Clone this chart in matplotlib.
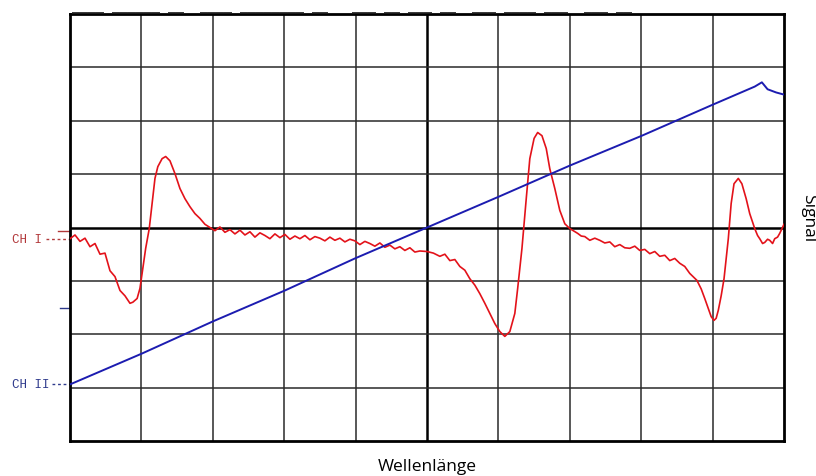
import matplotlib.pyplot as plt
import matplotlib.transforms as mtransforms

# CH I trace (red), x and y in grid divisions (10 x 8 screen, centre = 0)
ch1_x = [0.00, 0.07, 0.14, 0.21, 0.28, 0.35, 0.42, 0.49, 0.56, 0.63, 0.70, 0.77, 0.84, 0.88,
         0.94, 0.98, 1.02, 1.06, 1.11, 1.15, 1.19, 1.23, 1.29, 1.34, 1.40, 1.47, 1.54, 1.61,
         1.68, 1.75, 1.82, 1.89, 1.96, 2.03, 2.10, 2.17, 2.24, 2.31, 2.38, 2.45, 2.52, 2.59,
         2.66, 2.73, 2.80, 2.87, 2.94, 3.01, 3.08, 3.15, 3.22, 3.29, 3.36, 3.43, 3.50, 3.57,
         3.64, 3.71, 3.78, 3.85, 3.92, 3.99, 4.06, 4.13, 4.20, 4.27, 4.34, 4.41, 4.48, 4.55,
         4.62, 4.69, 4.76, 4.83, 4.90, 5.00, 5.09, 5.18, 5.25, 5.32, 5.39, 5.46, 5.53, 5.60,
         5.67, 5.74, 5.81, 5.88, 5.95, 6.02, 6.09, 6.16, 6.23, 6.27, 6.33, 6.39, 6.44, 6.50,
         6.55, 6.61, 6.67, 6.72, 6.79, 6.86, 6.93, 7.00, 7.05, 7.11, 7.16, 7.21, 7.28, 7.35,
         7.42, 7.49, 7.56, 7.63, 7.70, 7.77, 7.84, 7.91, 7.98, 8.05, 8.12, 8.19, 8.26, 8.33,
         8.40, 8.47, 8.54, 8.61, 8.68, 8.78, 8.84, 8.89, 8.94, 8.98, 9.02, 9.05, 9.08, 9.12,
         9.16, 9.22, 9.26, 9.30, 9.36, 9.41, 9.47, 9.52, 9.59, 9.63, 9.66, 9.70, 9.73, 9.77,
         9.80, 9.84, 9.87, 9.91, 9.94, 10.00]
ch1_y = [-0.21, -0.14, -0.26, -0.20, -0.36, -0.30, -0.50, -0.48, -0.81, -0.92, -1.18, -1.28,
         -1.42, -1.40, -1.33, -1.14, -0.77, -0.39, -0.02, 0.45, 0.92, 1.14, 1.29, 1.33, 1.25,
         1.01, 0.73, 0.54, 0.39, 0.26, 0.17, 0.06, 0.00, -0.06, 0.01, -0.09, -0.04, -0.12,
         -0.05, -0.14, -0.08, -0.18, -0.10, -0.15, -0.21, -0.12, -0.19, -0.13, -0.22, -0.16,
         -0.21, -0.15, -0.23, -0.17, -0.20, -0.25, -0.18, -0.24, -0.20, -0.27, -0.22, -0.25,
         -0.32, -0.26, -0.30, -0.35, -0.29, -0.37, -0.33, -0.40, -0.36, -0.43, -0.38, -0.46,
         -0.44, -0.45, -0.48, -0.54, -0.50, -0.62, -0.60, -0.73, -0.80, -0.96, -1.08, -1.24,
         -1.42, -1.61, -1.80, -1.95, -2.04, -1.95, -1.61, -1.14, -0.39, 0.54, 1.29, 1.67, 1.78,
         1.72, 1.48, 1.10, 0.73, 0.32, 0.07, -0.02, -0.06, -0.11, -0.16, -0.17, -0.24, -0.20,
         -0.24, -0.29, -0.27, -0.36, -0.32, -0.38, -0.39, -0.35, -0.43, -0.41, -0.49, -0.45,
         -0.54, -0.52, -0.62, -0.58, -0.67, -0.73, -0.86, -0.99, -1.15, -1.33, -1.52, -1.67,
         -1.74, -1.70, -1.55, -1.28, -0.96, -0.21, 0.45, 0.82, 0.92, 0.82, 0.54, 0.26, -0.02,
         -0.15, -0.21, -0.30, -0.28, -0.22, -0.24, -0.30, -0.21, -0.18, -0.11, 0.06]

# CH II trace (blue)
ch2_x = [0.00, 1.01, 2.00, 3.01, 3.99, 5.00, 6.01, 7.00, 8.01, 9.00, 9.59, 9.69, 9.77, 9.89, 10.00]
ch2_y = [-2.94, -2.36, -1.76, -1.18, -0.58, 0.00, 0.58, 1.16, 1.72, 2.30, 2.64, 2.72, 2.59, 2.53, 2.49]

# channel labels and offset markers
ch1_label, ch1_level, ch1_marker = 'CH I', -0.21, -0.06
ch2_label, ch2_level, ch2_marker = 'CH II', -2.94, -1.50

red = '#e3121a'
blue = '#1c1cb0'
label_red = '#b2383a'
label_blue = '#2e3a8c'

fig = plt.figure(figsize=(8.16, 4.77), dpi=100)
ax = fig.add_axes([70 / 816, 1 - 442 / 477, 714 / 816, 427 / 477])
ax.set_xlim(0, 10)
ax.set_ylim(-4, 4)

# Raster
for gx in range(1, 10):
    ax.axvline(gx, color='#2a2a2a' if gx != 5 else 'black', lw=1.1 if gx != 5 else 1.8, zorder=1)
for gy in range(-3, 4):
    ax.axhline(gy, color='#2a2a2a' if gy != 0 else 'black', lw=1.1 if gy != 0 else 1.8, zorder=1)
for s in ax.spines.values():
    s.set_linewidth(2)
    s.set_color('black')
ax.set_xticks([])
ax.set_yticks([])

ax.plot(ch1_x, ch1_y, color=red, lw=1.2, zorder=3)
ax.plot(ch2_x, ch2_y, color=blue, lw=1.4, zorder=3)

# Kanalbeschriftungen links
trans = mtransforms.blended_transform_factory(fig.transFigure, ax.transData)
ax.text(12 / 816, ch1_level, ch1_label, transform=trans, color=label_red,
        family='Liberation Mono', fontsize=9, va='center', ha='left')
ax.text(12 / 816, ch2_level, ch2_label, transform=trans, color=label_blue,
        family='Liberation Mono', fontsize=9, va='center', ha='left')
ax.plot([46 / 816, 70 / 816], [ch1_level, ch1_level], transform=trans, color=label_red,
        ls=(0, (2, 2)), lw=1, clip_on=False)
ax.plot([52 / 816, 70 / 816], [ch2_level, ch2_level], transform=trans, color=label_blue,
        ls=(0, (2, 2)), lw=1, clip_on=False)
ax.plot([58 / 816, 70 / 816], [ch1_marker, ch1_marker], transform=trans, color=label_red,
        lw=1, clip_on=False)
ax.plot([60 / 816, 70 / 816], [ch2_marker, ch2_marker], transform=trans, color=label_blue,
        lw=1, clip_on=False)

# abgeschnittene Statuszeile oben
fig.text(72 / 816, 1 - 9.5 / 477, '____ ______ __  ____ ________ __   ___ __ ___ __  ___ ____ ___  ___ __',
         family='DejaVu Sans Mono', fontsize=9.5, va='baseline', ha='left', color='#333333')

fig.text(427 / 816, 1 - 467 / 477, 'Wellenlänge', family='Open Sans', fontsize=12.5,
         ha='center', va='center')
fig.text(808 / 816, 1 - 218 / 477, 'Signal', family='Open Sans', fontsize=12.5,
         rotation=-90, ha='center', va='center')

fig.savefig('out.png', dpi=100)
